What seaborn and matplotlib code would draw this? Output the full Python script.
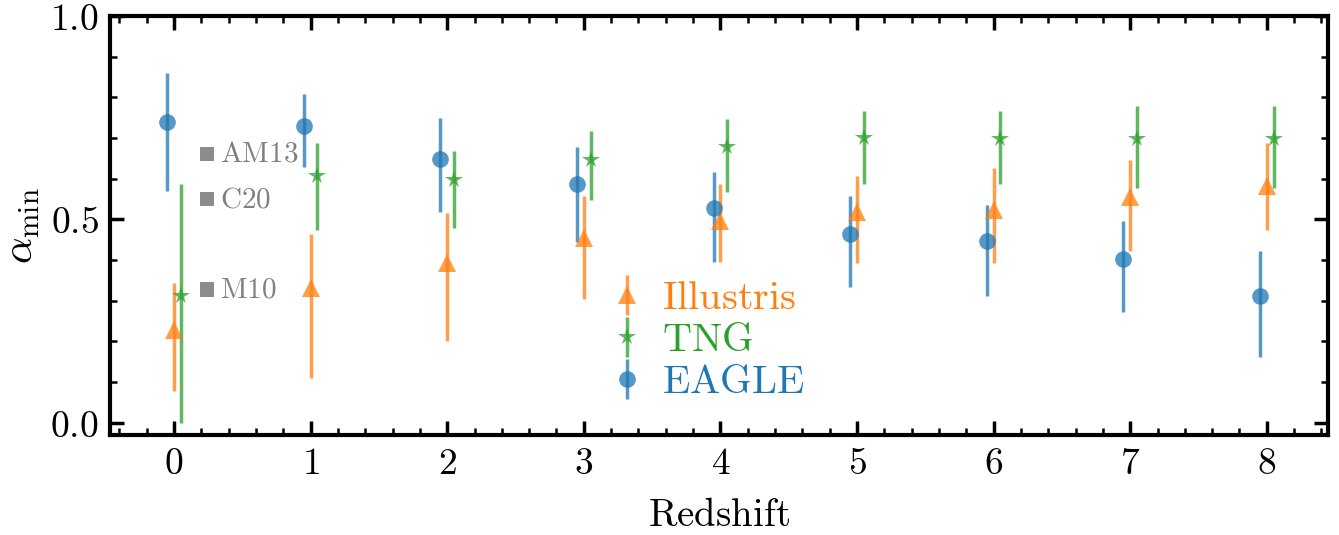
"""Minimum alpha versus redshift for three simulations."""

import matplotlib

matplotlib.use("Agg")
import matplotlib.pyplot as plt
import numpy as np
import pandas as pd
import seaborn as sns
from matplotlib.ticker import FuncFormatter, MultipleLocator

redshift = np.arange(9)

eagle = [0.740, 0.730, 0.648, 0.587, 0.527, 0.465, 0.446, 0.403, 0.312]
eagle_hi = [0.859, 0.809, 0.750, 0.678, 0.616, 0.557, 0.535, 0.495, 0.423]
eagle_lo = [0.569, 0.629, 0.517, 0.445, 0.396, 0.334, 0.312, 0.272, 0.161]

illustris = [0.228, 0.332, 0.394, 0.455, 0.495, 0.517, 0.522, 0.554, 0.582]
illustris_hi = [0.344, 0.465, 0.515, 0.557, 0.587, 0.606, 0.626, 0.646, 0.688]
illustris_lo = [0.079, 0.111, 0.200, 0.304, 0.396, 0.394, 0.394, 0.423, 0.475]

tng = [0.312, 0.607, 0.597, 0.646, 0.678, 0.700, 0.698, 0.698, 0.698]
tng_hi = [0.587, 0.688, 0.668, 0.718, 0.748, 0.767, 0.767, 0.780, 0.780]
tng_lo = [0.000, 0.475, 0.478, 0.547, 0.567, 0.587, 0.587, 0.577, 0.577]

obs_names = ["AM13", "C20", "M10"]
obs_values = [0.661, 0.550, 0.327]
obs_x = [0.24, 0.24, 0.24]

sns.set_theme(style="ticks")
plt.rcParams.update(
    {
        "font.family": ["DejaVu Serif"],
        "mathtext.fontset": "cm",
        "text.color": "black",
        "axes.labelcolor": "black",
        "axes.edgecolor": "black",
        "xtick.color": "black",
        "ytick.color": "black",
        "axes.linewidth": 3.0,
        "xtick.direction": "in",
        "ytick.direction": "in",
        "xtick.top": True,
        "ytick.right": True,
        "xtick.major.size": 10,
        "ytick.major.size": 10,
        "xtick.minor.size": 5,
        "ytick.minor.size": 5,
        "xtick.major.width": 2.5,
        "ytick.major.width": 2.5,
        "xtick.minor.width": 1.8,
        "ytick.minor.width": 1.8,
    }
)

fig = plt.figure(figsize=(13.39, 5.35), dpi=100)
ax = fig.add_axes([0.082, 0.187, 0.910, 0.783])

series = [
    ("Illustris", illustris, illustris_lo, illustris_hi, 0.0, "^", 13, "tab:orange"),
    ("TNG", tng, tng_lo, tng_hi, 0.05, "*", 13, "tab:green"),
    ("EAGLE", eagle, eagle_lo, eagle_hi, -0.05, "o", 12, "tab:blue"),
]

handles = []
for name, mid, lo, hi, shift, marker, size, color in series:
    mid = np.asarray(mid)
    yerr = [mid - np.asarray(lo), np.asarray(hi) - mid]
    h = ax.errorbar(
        redshift + shift,
        mid,
        yerr=yerr,
        fmt=marker,
        ms=size,
        color=color,
        elinewidth=2.5,
        alpha=0.75,
        markeredgewidth=0,
        label=rf"$\mathrm{{{name}}}$",
    )
    handles.append(h)

obs = pd.DataFrame({"x": obs_x, "alpha": obs_values, "name": obs_names})
sns.scatterplot(
    data=obs, x="x", y="alpha", marker="s", s=110, color="gray",
    edgecolor="none", alpha=0.9, ax=ax, legend=False,
)
for _, row in obs.iterrows():
    ax.text(row["x"] + 0.1, row["alpha"], rf"$\mathrm{{{row['name']}}}$",
            color="gray", fontsize=21, va="center", ha="left")

ax.set_xlim(-0.47, 8.45)
ax.set_ylim(-0.03, 1.0)
ax.xaxis.set_major_locator(MultipleLocator(1))
ax.xaxis.set_minor_locator(MultipleLocator(0.2))
ax.yaxis.set_major_locator(MultipleLocator(0.5))
ax.yaxis.set_minor_locator(MultipleLocator(0.1))
ax.xaxis.set_major_formatter(FuncFormatter(lambda v, _: rf"${v:.0f}$"))
ax.yaxis.set_major_formatter(FuncFormatter(lambda v, _: rf"${v:.1f}$"))
ax.tick_params(axis="both", which="major", labelsize=27, pad=8)
ax.set_xlabel(r"$\mathrm{Redshift}$", fontsize=28, labelpad=11)
ax.set_ylabel(r"$\alpha_{\mathrm{min}}$", fontsize=30, labelpad=6)

leg = ax.legend(
    handles=handles,
    loc="center left",
    bbox_to_anchor=(0.395, 0.225),
    frameon=False,
    fontsize=29,
    handlelength=0.8,
    handletextpad=0.45,
    labelspacing=0.12,
    borderpad=0.0,
)
for text, (_, _, _, _, _, _, _, color) in zip(leg.get_texts(), series):
    text.set_color(color)

fig.savefig("out.png", dpi=100)
